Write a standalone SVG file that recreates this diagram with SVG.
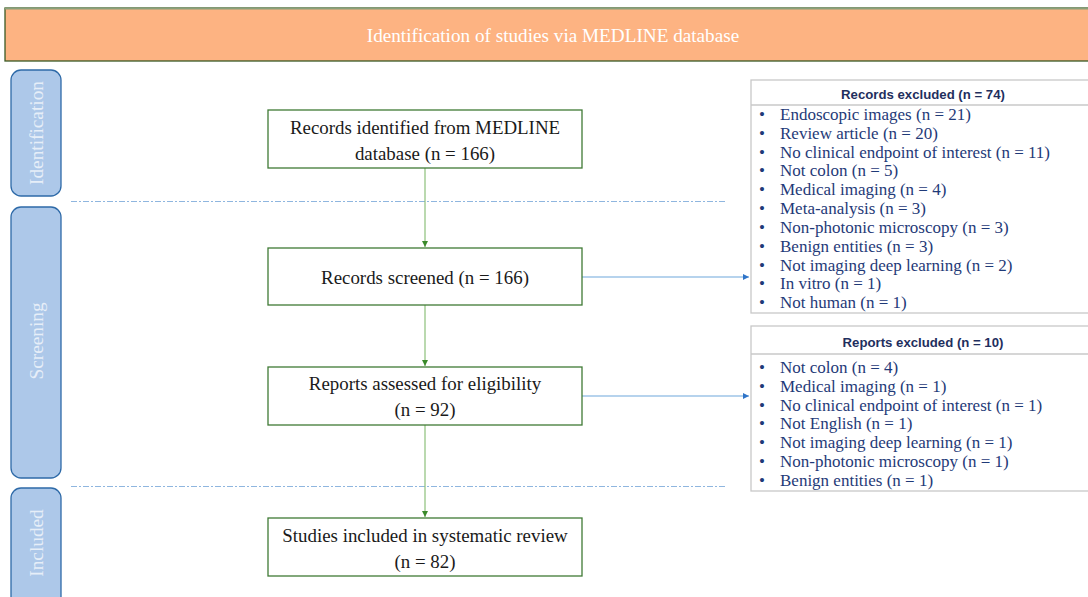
<svg xmlns="http://www.w3.org/2000/svg" width="1088" height="597" viewBox="0 0 1088 597">
<defs>
<style>
.box{fill:#fff;stroke:#3f7a35;stroke-width:1.3}
.phase{fill:#adc8e9;stroke:#2e6aa8;stroke-width:1.3}
.ptxt{font-family:"Liberation Serif",serif;font-size:19.3px;fill:#e6eef8;text-anchor:middle}
.mtxt{font-family:"Liberation Serif",serif;font-size:18.9px;fill:#1a1a1a;text-anchor:middle}
.ltxt{font-family:"Liberation Serif",serif;font-size:17px;fill:#1f3a78}
.htxt{font-family:"Liberation Sans",Arial,sans-serif;font-size:13.2px;font-weight:bold;fill:#1f2f5e;text-anchor:middle}
.exbox{fill:#fff;stroke:#c8c8c8;stroke-width:1.3}
.dash{stroke:#8fb6df;stroke-width:1.2;stroke-dasharray:6 2 2 2;fill:none}
.gline{stroke:#8cc07a;stroke-width:1.2;fill:none}
.bline{stroke:#6fa8dc;stroke-width:1.2;fill:none}
</style>
<marker id="ag" markerWidth="8" markerHeight="8" refX="6" refY="3" orient="auto" markerUnits="userSpaceOnUse"><path d="M0,0 L6,3 L0,6 z" fill="#3a8a2a"/></marker>
<marker id="ab" markerWidth="8" markerHeight="8" refX="6" refY="3" orient="auto" markerUnits="userSpaceOnUse"><path d="M0,0 L6,3 L0,6 z" fill="#2f74c8"/></marker>
</defs>
<rect width="1088" height="597" fill="#fff"/>
<g id="header">
<rect x="5" y="8" width="1090" height="53" fill="#fdb382" stroke="#3a5a25" stroke-width="1.3"/>
<line x1="5" y1="8.5" x2="1088" y2="8.5" stroke="#8aa07a" stroke-width="2"/>
<text x="553" y="42" font-family="Liberation Serif,serif" font-size="19.2" fill="#fff" text-anchor="middle">Identification of studies via MEDLINE database</text>
</g>
<g id="phase-identification">
<rect class="phase" x="11" y="70" width="50" height="126" rx="10"/>
<text class="ptxt" transform="translate(42.5,133) rotate(-90)">Identification</text>
</g>
<g id="phase-screening">
<rect class="phase" x="11" y="207" width="50" height="271" rx="10"/>
<text class="ptxt" transform="translate(42.5,341) rotate(-90)">Screening</text>
</g>
<g id="phase-included">
<rect class="phase" x="11" y="488" width="50" height="120" rx="10"/>
<text class="ptxt" transform="translate(42.5,543) rotate(-90)">Included</text>
</g>
<g id="separators">
<line class="dash" x1="71" y1="201.5" x2="726" y2="201.5"/>
<line class="dash" x1="71" y1="486.5" x2="726" y2="486.5"/>
</g>
<g id="connectors">
<line class="gline" x1="425" y1="168" x2="425" y2="247" marker-end="url(#ag)"/>
<line class="gline" x1="425" y1="305" x2="425" y2="366" marker-end="url(#ag)"/>
<line class="gline" x1="425" y1="425" x2="425" y2="517" marker-end="url(#ag)"/>
<line class="bline" x1="582" y1="277" x2="749" y2="277" marker-end="url(#ab)"/>
<line class="bline" x1="582" y1="396" x2="749" y2="396" marker-end="url(#ab)"/>
</g>
<g id="n-identified">
<rect class="box" x="268" y="110" width="314" height="58"/>
<text class="mtxt" x="425" y="134">Records identified from MEDLINE</text>
<text class="mtxt" x="425" y="160">database (n = 166)</text>
</g>
<g id="n-screened">
<rect class="box" x="268" y="248" width="314" height="57"/>
<text class="mtxt" x="425" y="284">Records screened (n = 166)</text>
</g>
<g id="n-assessed">
<rect class="box" x="268" y="367" width="314" height="58"/>
<text class="mtxt" x="425" y="390">Reports assessed for eligibility</text>
<text class="mtxt" x="425" y="416">(n = 92)</text>
</g>
<g id="n-included">
<rect class="box" x="268" y="518" width="314" height="58"/>
<text class="mtxt" x="425" y="542">Studies included in systematic review</text>
<text class="mtxt" x="425" y="568">(n = 82)</text>
</g>
<g id="n-records-excluded">
<rect class="exbox" x="751" y="80" width="345" height="233"/>
<line x1="751" y1="105" x2="1088" y2="105" stroke="#c8c8c8" stroke-width="1.3"/>
<text class="htxt" x="923" y="99">Records excluded (n = 74)</text>
<g class="ltxt">
<text x="759" y="120">•</text><text x="780" y="120">Endoscopic images (n = 21)</text>
<text x="759" y="139">•</text><text x="780" y="139">Review article (n = 20)</text>
<text x="759" y="158">•</text><text x="780" y="158">No clinical endpoint of interest (n = 11)</text>
<text x="759" y="176">•</text><text x="780" y="176">Not colon (n = 5)</text>
<text x="759" y="195">•</text><text x="780" y="195">Medical imaging (n = 4)</text>
<text x="759" y="214">•</text><text x="780" y="214">Meta-analysis (n = 3)</text>
<text x="759" y="233">•</text><text x="780" y="233">Non-photonic microscopy (n = 3)</text>
<text x="759" y="252">•</text><text x="780" y="252">Benign entities (n = 3)</text>
<text x="759" y="271">•</text><text x="780" y="271">Not imaging deep learning (n = 2)</text>
<text x="759" y="289">•</text><text x="780" y="289">In vitro (n = 1)</text>
<text x="759" y="308">•</text><text x="780" y="308">Not human (n = 1)</text>
</g>
</g>
<g id="n-reports-excluded">
<rect class="exbox" x="751" y="326" width="345" height="165"/>
<line x1="751" y1="354" x2="1088" y2="354" stroke="#c8c8c8" stroke-width="1.3"/>
<text class="htxt" x="923" y="347">Reports excluded (n = 10)</text>
<g class="ltxt">
<text x="759" y="373">•</text><text x="780" y="373">Not colon (n = 4)</text>
<text x="759" y="392">•</text><text x="780" y="392">Medical imaging (n = 1)</text>
<text x="759" y="411">•</text><text x="780" y="411">No clinical endpoint of interest (n = 1)</text>
<text x="759" y="429">•</text><text x="780" y="429">Not English (n = 1)</text>
<text x="759" y="448">•</text><text x="780" y="448">Not imaging deep learning (n = 1)</text>
<text x="759" y="467">•</text><text x="780" y="467">Non-photonic microscopy (n = 1)</text>
<text x="759" y="486">•</text><text x="780" y="486">Benign entities (n = 1)</text>
</g>
</g>
</svg>
